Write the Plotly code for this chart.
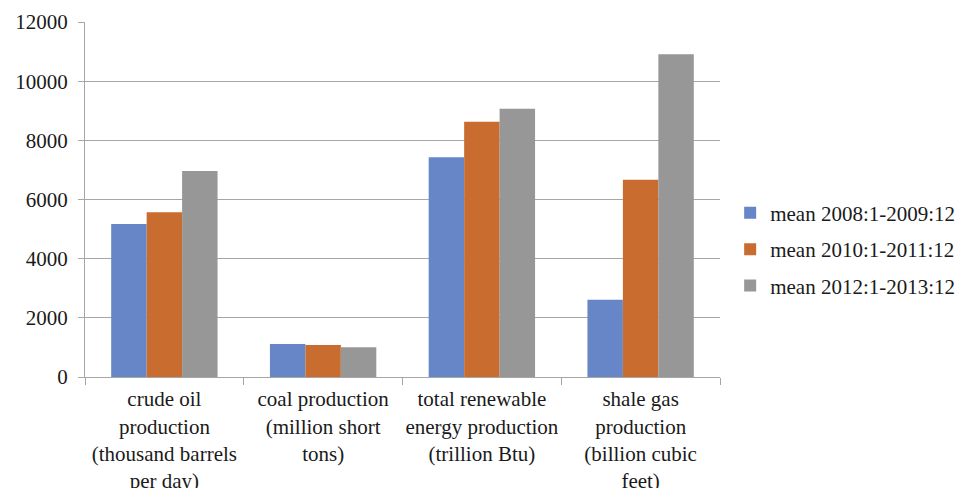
import plotly.graph_objects as go

categories = [
    "crude oil<br>production<br>(thousand barrels<br>per day)",
    "coal production<br>(million short<br>tons)",
    "total renewable<br>energy production<br>(trillion Btu)",
    "shale gas<br>production<br>(billion cubic<br>feet)",
]
series_names = ["mean 2008:1-2009:12", "mean 2010:1-2011:12", "mean 2012:1-2013:12"]
mean_2008_2009 = [5175, 1115, 7430, 2610]
mean_2010_2011 = [5570, 1080, 8630, 6670]
mean_2012_2013 = [6965, 1005, 9070, 10910]
series_values = [mean_2008_2009, mean_2010_2011, mean_2012_2013]
colors = ["#6686C8", "#C86C2F", "#979797"]
y_ticks = [0, 2000, 4000, 6000, 8000, 10000, 12000]

FONT = "Liberation Serif"
FS = 21

fig = go.Figure()
for i, (name, vals, col) in enumerate(zip(series_names, series_values, colors)):
    fig.add_trace(go.Bar(
        x=categories, y=vals, name=name,
        marker=dict(color=col, line=dict(width=0)),
        legendgroup=f"g{i}",
    ))

fig.update_layout(
    width=962, height=488,
    margin=dict(l=85, r=242, t=22, b=111, autoexpand=False),
    paper_bgcolor="white", plot_bgcolor="white",
    barmode="group", bargap=0.33, bargroupgap=0,
    font=dict(family=FONT, size=FS, color="#1a1a1a"),
    legend=dict(
        x=1.016, xanchor="left", y=0.36, yanchor="middle",
        font=dict(family=FONT, size=FS, color="#1a1a1a"),
        tracegroupgap=6, itemwidth=30,
    ),
    xaxis=dict(
        showgrid=False, showline=True, linecolor="#a6a6a6", linewidth=1,
        ticks="outside", tickson="boundaries", ticklen=7, tickcolor="#a6a6a6",
        tickangle=0, ticklabelstandoff=3,
        tickfont=dict(family=FONT, size=FS, color="#1a1a1a"),
    ),
    yaxis=dict(
        range=[0, 12000], tickvals=y_ticks, ticktext=[str(v) for v in y_ticks],
        showgrid=True, gridcolor="#a6a6a6", gridwidth=1,
        showline=True, linecolor="#a6a6a6", linewidth=1,
        zeroline=False,
        ticks="outside", ticklen=6, tickcolor="#a6a6a6",
        ticklabelstandoff=6,
        tickfont=dict(family=FONT, size=FS, color="#1a1a1a"),
    ),
)

fig.write_html("out.html")
